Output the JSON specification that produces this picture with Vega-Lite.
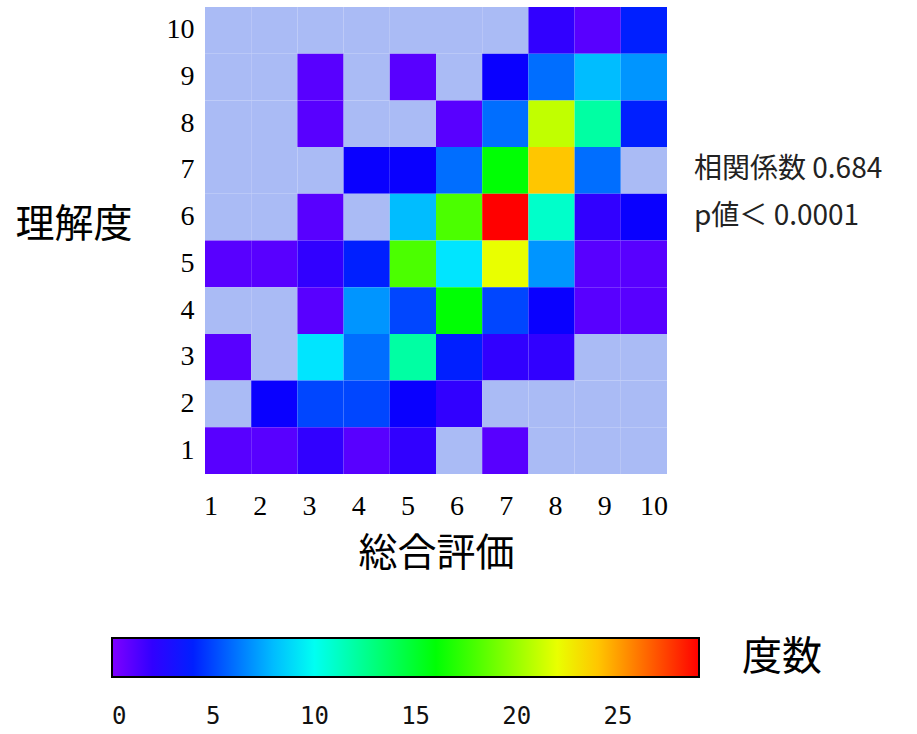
{
  "$schema": "https://vega.github.io/schema/vega-lite/v6.json",
  "padding": {"left": 14, "top": 7, "right": 5, "bottom": 2},
  "background": "white",
  "config": {"view": {"stroke": null}},
  "layer": [
    {
      "data": {"values": [
        {"総合評価":1,"理解度":10,"度数":0},{"総合評価":2,"理解度":10,"度数":0},{"総合評価":3,"理解度":10,"度数":0},{"総合評価":4,"理解度":10,"度数":0},{"総合評価":5,"理解度":10,"度数":0},{"総合評価":6,"理解度":10,"度数":0},{"総合評価":7,"理解度":10,"度数":0},{"総合評価":8,"理解度":10,"度数":2},{"総合評価":9,"理解度":10,"度数":1},{"総合評価":10,"理解度":10,"度数":4},
        {"総合評価":1,"理解度":9,"度数":0},{"総合評価":2,"理解度":9,"度数":0},{"総合評価":3,"理解度":9,"度数":1},{"総合評価":4,"理解度":9,"度数":0},{"総合評価":5,"理解度":9,"度数":1},{"総合評価":6,"理解度":9,"度数":0},{"総合評価":7,"理解度":9,"度数":3},{"総合評価":8,"理解度":9,"度数":6},{"総合評価":9,"理解度":9,"度数":8},{"総合評価":10,"理解度":9,"度数":7},
        {"総合評価":1,"理解度":8,"度数":0},{"総合評価":2,"理解度":8,"度数":0},{"総合評価":3,"理解度":8,"度数":1},{"総合評価":4,"理解度":8,"度数":0},{"総合評価":5,"理解度":8,"度数":0},{"総合評価":6,"理解度":8,"度数":1},{"総合評価":7,"理解度":8,"度数":6},{"総合評価":8,"理解度":8,"度数":21},{"総合評価":9,"理解度":8,"度数":12},{"総合評価":10,"理解度":8,"度数":4},
        {"総合評価":1,"理解度":7,"度数":0},{"総合評価":2,"理解度":7,"度数":0},{"総合評価":3,"理解度":7,"度数":0},{"総合評価":4,"理解度":7,"度数":3},{"総合評価":5,"理解度":7,"度数":3},{"総合評価":6,"理解度":7,"度数":6},{"総合評価":7,"理解度":7,"度数":16},{"総合評価":8,"理解度":7,"度数":24},{"総合評価":9,"理解度":7,"度数":6},{"総合評価":10,"理解度":7,"度数":0},
        {"総合評価":1,"理解度":6,"度数":0},{"総合評価":2,"理解度":6,"度数":0},{"総合評価":3,"理解度":6,"度数":1},{"総合評価":4,"理解度":6,"度数":0},{"総合評価":5,"理解度":6,"度数":8},{"総合評価":6,"理解度":6,"度数":18},{"総合評価":7,"理解度":6,"度数":29},{"総合評価":8,"理解度":6,"度数":11},{"総合評価":9,"理解度":6,"度数":2},{"総合評価":10,"理解度":6,"度数":3},
        {"総合評価":1,"理解度":5,"度数":1},{"総合評価":2,"理解度":5,"度数":1},{"総合評価":3,"理解度":5,"度数":2},{"総合評価":4,"理解度":5,"度数":4},{"総合評価":5,"理解度":5,"度数":18},{"総合評価":6,"理解度":5,"度数":9},{"総合評価":7,"理解度":5,"度数":22},{"総合評価":8,"理解度":5,"度数":7},{"総合評価":9,"理解度":5,"度数":1},{"総合評価":10,"理解度":5,"度数":1},
        {"総合評価":1,"理解度":4,"度数":0},{"総合評価":2,"理解度":4,"度数":0},{"総合評価":3,"理解度":4,"度数":1},{"総合評価":4,"理解度":4,"度数":7},{"総合評価":5,"理解度":4,"度数":5},{"総合評価":6,"理解度":4,"度数":16},{"総合評価":7,"理解度":4,"度数":5},{"総合評価":8,"理解度":4,"度数":3},{"総合評価":9,"理解度":4,"度数":1},{"総合評価":10,"理解度":4,"度数":1},
        {"総合評価":1,"理解度":3,"度数":1},{"総合評価":2,"理解度":3,"度数":0},{"総合評価":3,"理解度":3,"度数":9},{"総合評価":4,"理解度":3,"度数":6},{"総合評価":5,"理解度":3,"度数":12},{"総合評価":6,"理解度":3,"度数":4},{"総合評価":7,"理解度":3,"度数":2},{"総合評価":8,"理解度":3,"度数":2},{"総合評価":9,"理解度":3,"度数":0},{"総合評価":10,"理解度":3,"度数":0},
        {"総合評価":1,"理解度":2,"度数":0},{"総合評価":2,"理解度":2,"度数":3},{"総合評価":3,"理解度":2,"度数":5},{"総合評価":4,"理解度":2,"度数":5},{"総合評価":5,"理解度":2,"度数":3},{"総合評価":6,"理解度":2,"度数":2},{"総合評価":7,"理解度":2,"度数":0},{"総合評価":8,"理解度":2,"度数":0},{"総合評価":9,"理解度":2,"度数":0},{"総合評価":10,"理解度":2,"度数":0},
        {"総合評価":1,"理解度":1,"度数":1},{"総合評価":2,"理解度":1,"度数":1},{"総合評価":3,"理解度":1,"度数":2},{"総合評価":4,"理解度":1,"度数":1},{"総合評価":5,"理解度":1,"度数":2},{"総合評価":6,"理解度":1,"度数":0},{"総合評価":7,"理解度":1,"度数":1},{"総合評価":8,"理解度":1,"度数":0},{"総合評価":9,"理解度":1,"度数":0},{"総合評価":10,"理解度":1,"度数":0}
      ]},
      "mark": {"type": "rect"},
      "encoding": {
        "x": {
          "field": "総合評価", "type": "ordinal",
          "scale": {"paddingInner": 0, "paddingOuter": 0},
          "axis": {
            "labelAngle": 0, "labelPadding": 18, "ticks": false, "domain": false,
            "labelOffset": {"expr": "3 * datum.value - 20"},
            "labelFont": "Liberation Serif", "labelFontSize": 28, "labelColor": "black",
            "titleFont": "Noto Sans CJK JP", "titleFontSize": 39, "titleFontWeight": "normal",
            "titleColor": "black", "titlePadding": 14
          }
        },
        "y": {
          "field": "理解度", "type": "ordinal", "sort": "descending",
          "scale": {"paddingInner": 0, "paddingOuter": 0},
          "axis": {
            "labelPadding": 11, "ticks": false, "domain": false,
            "labelFont": "Liberation Serif", "labelFontSize": 28, "labelColor": "black",
            "titleFont": "Noto Sans CJK JP", "titleFontSize": 39, "titleFontWeight": "normal",
            "titleColor": "black", "titleAngle": 0, "titleAlign": "right",
            "titleBaseline": "middle", "titleY": 217, "titlePadding": 34
          }
        },
        "color": {
          "condition": {"test": "datum['度数'] === 0", "value": "#aabbf5"},
          "field": "度数", "type": "quantitative",
          "scale": {
            "domain": [0, 3.2222, 9.6667, 16.1111, 22.5556, 29],
            "range": ["#8000ff", "#0000ff", "#00ffff", "#00ff00", "#ffff00", "#ff0000"],
            "interpolate": "rgb"
          },
          "legend": {
            "title": "度数",
            "orient": "none", "legendX": -93, "legendY": 631,
            "direction": "horizontal",
            "gradientLength": 587, "gradientThickness": 39,
            "gradientStrokeColor": "black", "gradientStrokeWidth": 2,
            "values": [0, 5, 10, 15, 20, 25],
            "labelFont": "DejaVu Sans Mono", "labelFontSize": 24, "labelColor": "#111",
            "labelOffset": 28,
            "titleOrient": "right", "titleFont": "Noto Sans CJK JP", "titleFontSize": 40,
            "titleFontWeight": "normal", "titleColor": "black", "titlePadding": 42,
            "padding": 0
          }
        }
      }
    },
    {
      "data": {"values": [
        {"注記": "相関係数 0.684", "理解度": 7},
        {"注記": "p値＜ 0.0001", "理解度": 6}
      ]},
      "mark": {"type": "text", "align": "left", "baseline": "middle", "dx": 27,
               "font": "Noto Sans CJK JP", "fontSize": 28, "color": "#222"},
      "encoding": {
        "x": {"value": "width"},
        "y": {"field": "理解度", "type": "ordinal", "sort": "descending"},
        "text": {"field": "注記"}
      }
    }
  ],
  "width": 462,
  "height": 467
}
